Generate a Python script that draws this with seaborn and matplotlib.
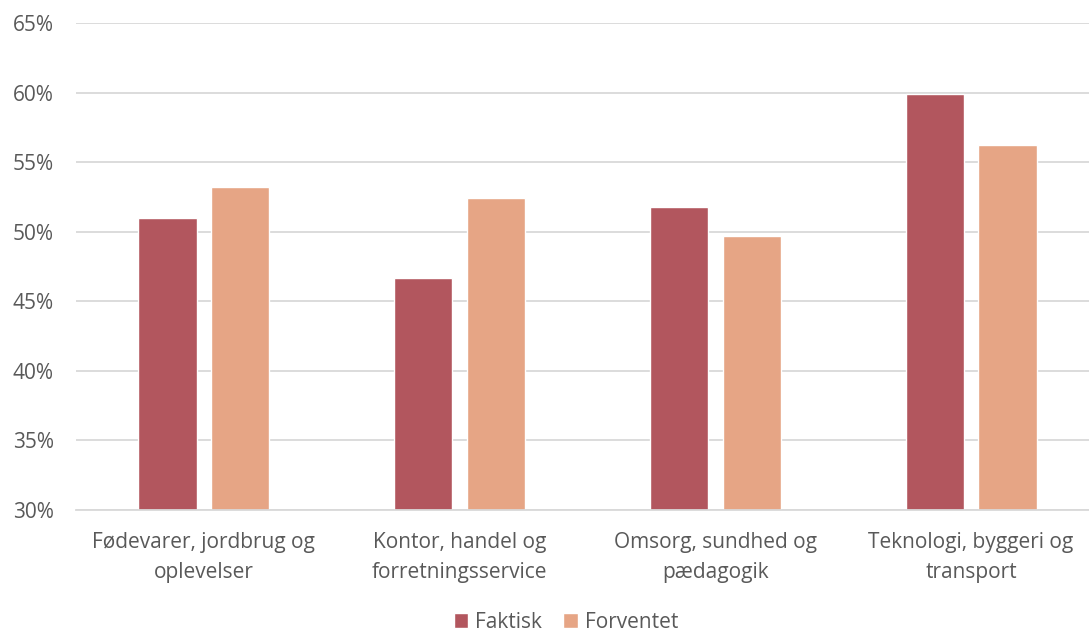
import matplotlib
matplotlib.use("Agg")
import matplotlib.pyplot as plt
import seaborn as sns
import pandas as pd
from matplotlib.ticker import PercentFormatter, FixedLocator

categories = ["Fødevarer, jordbrug og\noplevelser",
              "Kontor, handel og\nforretningsservice",
              "Omsorg, sundhed og\npædagogik",
              "Teknologi, byggeri og\ntransport"]
faktisk = [0.510, 0.467, 0.518, 0.599]
forventet = [0.532, 0.524, 0.497, 0.562]
series_names = ["Faktisk", "Forventet"]
colors = ["#B2565E", "#E6A585"]
y_ticks = [0.30, 0.35, 0.40, 0.45, 0.50, 0.55, 0.60, 0.65]

df = pd.DataFrame({
    "cat": categories * 2,
    "val": faktisk + forventet,
    "serie": [series_names[0]] * 4 + [series_names[1]] * 4,
})

sns.set_theme(style="white")
plt.rcParams["font.family"] = ["Open Sans", "DejaVu Sans"]
text_color = "#595959"
fs = 15

fig = plt.figure(figsize=(10.89, 6.33), dpi=100)
ax = fig.add_axes([76 / 1089, 1 - 510 / 633, 1 - 76 / 1089, (510 - 23) / 633])

sns.barplot(data=df, x="cat", y="val", hue="serie", palette=colors,
            width=0.57, gap=0.2, ax=ax, legend=True, saturation=1)

ax.set_ylim(0.30, 0.65)
ax.set_xlim(-0.5, 3.5 - 10 / 256)
ax.yaxis.set_major_locator(FixedLocator(y_ticks))
ax.yaxis.set_major_formatter(PercentFormatter(1.0, decimals=0))
ax.grid(axis="y", color="#d9d9d9", linewidth=1.3)
ax.set_axisbelow(True)
for s in ["top", "right", "left"]:
    ax.spines[s].set_visible(False)
ax.spines["bottom"].set_color("#d9d9d9")
ax.spines["bottom"].set_linewidth(1.3)
ax.set_xlabel("")
ax.set_ylabel("")
ax.tick_params(axis="both", length=0, colors=text_color, labelsize=fs)
ax.tick_params(axis="y", pad=16)
ax.tick_params(axis="x", pad=16)
for lbl in ax.get_xticklabels():
    lbl.set_linespacing(1.55)

handles, labels = ax.get_legend_handles_labels()
ax.get_legend().remove()
fig.legend(handles, labels, loc="center", bbox_to_anchor=(566 / 1089, 1 - 622 / 633),
           ncol=2, frameon=False, fontsize=fs, labelcolor=text_color,
           handlelength=0.7, handleheight=0.7, handletextpad=0.35, columnspacing=1.0)

fig.savefig("out.png", dpi=100)
